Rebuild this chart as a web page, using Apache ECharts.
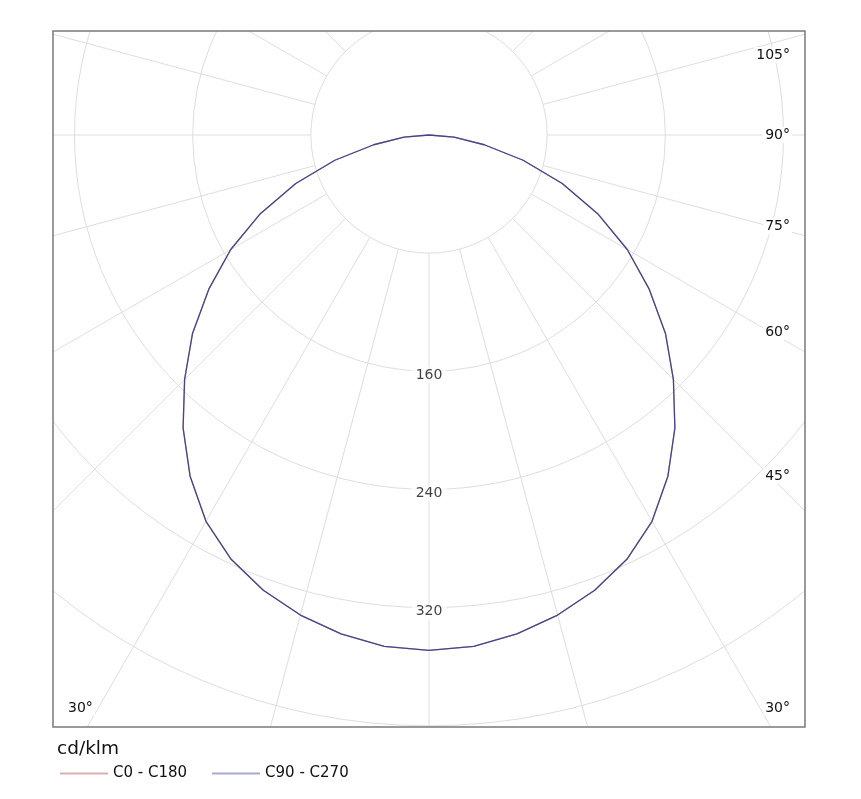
<!DOCTYPE html>
<html>
<head>
<meta charset="utf-8">
<script src="https://cdn.jsdelivr.net/npm/echarts@6/dist/echarts.min.js"></script>
<style>
  html, body { margin: 0; padding: 0; background: #fff; }
  #chart { width: 861px; height: 799px; }
</style>
</head>
<body>
<div id="chart"></div>
<script>
// Photometric data, cd/klm (symmetric planes)
const gammaDeg = [0, 5, 10, 15, 20, 25, 30, 35, 40, 45, 50, 55, 60, 65, 70, 75, 80, 85, 90];
const c0c180 = [349, 347.5, 343, 336.5, 328, 317, 302, 282, 259, 234, 209, 182, 155, 126, 96, 66, 38, 17, 0];
const c90c270 = [349, 347.5, 343, 336.5, 328, 317, 302, 282, 259, 234, 209, 182, 155, 126, 96, 66, 38, 17, 0];

// Grid: rings every 80 cd/klm, radial lines every 15 degrees
const ringMin = 80;
const ringMax = 480;
const ringStep = 80;
const ringLabels = [160, 240, 320];
const angleStep = 15;
const rightAngleLabels = [105, 90, 75, 60, 45, 30];
const leftAngleLabels = [30];

const FONT = '"DejaVu Sans", "Noto Sans", sans-serif';
const TEXT = '#111';
const GRID = '#dedede';

// layout (pixels)
const plot = { left: 53, top: 31, right: 805, bottom: 727 };
const center = [429, 135];
const pxPerUnit = 1.477;
const outerR = ringMax * pxPerUnit;
const innerR = ringMin * pxPerUnit;

// closed curve of one plane: left half (360-g) then right half (g)
function planeCurve(vals) {
    const left = gammaDeg.slice(1).map((g, i) => [vals[i + 1], 360 - g]).reverse();
    const right = gammaDeg.map((g, i) => [vals[i], g]);
    return left.concat(right);
}

const chart = echarts.init(document.getElementById('chart'), null, { renderer: 'canvas' });

// white masks clip the polar grid to the square frame
const masks = [
    { type: 'rect', id: 'mT', z: 10, silent: true, shape: { x: 0, y: 0, width: 861, height: plot.top }, style: { fill: '#fff' } },
    { type: 'rect', id: 'mB', z: 10, silent: true, shape: { x: 0, y: plot.bottom, width: 861, height: 799 - plot.bottom }, style: { fill: '#fff' } },
    { type: 'rect', id: 'mL', z: 10, silent: true, shape: { x: 0, y: 0, width: plot.left, height: 799 }, style: { fill: '#fff' } },
    { type: 'rect', id: 'mR', z: 10, silent: true, shape: { x: plot.right, y: 0, width: 861 - plot.right, height: 799 }, style: { fill: '#fff' } },
    {
        type: 'rect', id: 'frame', z: 11, silent: true,
        shape: { x: plot.left, y: plot.top, width: plot.right - plot.left, height: plot.bottom - plot.top },
        style: { fill: 'none', stroke: '#7a7a7a', lineWidth: 1.5 }
    }
];

chart.setOption({
    animation: false,
    backgroundColor: '#fff',
    title: {
        text: 'cd/klm',
        left: 57,
        top: 740,
        padding: 0,
        z: 20,
        textStyle: { fontFamily: FONT, fontSize: 18.5, fontWeight: 'normal', color: TEXT }
    },
    legend: {
        data: [
            { name: 'C0 - C180', icon: 'rect', itemStyle: { color: '#dcb0b0' } },
            { name: 'C90 - C270', icon: 'rect', itemStyle: { color: '#a9a9d2' } }
        ],
        left: 55,
        top: 761,
        z: 20,
        itemWidth: 48,
        itemHeight: 2,
        itemGap: 25,
        textStyle: { fontFamily: FONT, fontSize: 15, color: TEXT }
    },
    polar: [
        { center: center, radius: [innerR, outerR] },
        { center: center, radius: [0, outerR] }
    ],
    angleAxis: [
        {
            polarIndex: 0, type: 'value', min: 0, max: 360, interval: angleStep,
            startAngle: 270, clockwise: false,
            axisLine: { show: false }, axisTick: { show: false }, axisLabel: { show: false },
            splitLine: { show: true, lineStyle: { color: GRID, width: 1 } }
        },
        {
            polarIndex: 1, type: 'value', min: 0, max: 360,
            startAngle: 270, clockwise: false, show: false,
            splitLine: { show: false }
        }
    ],
    radiusAxis: [
        {
            polarIndex: 0, type: 'value', min: ringMin, max: ringMax, interval: ringStep,
            axisLine: { show: false }, axisTick: { show: false }, axisLabel: { show: false },
            splitLine: { show: true, lineStyle: { color: GRID, width: 1 } }
        },
        {
            polarIndex: 1, type: 'value', min: 0, max: ringMax, show: false,
            splitLine: { show: false }
        }
    ],
    series: [
        {
            name: 'C0 - C180', type: 'line', coordinateSystem: 'polar', polarIndex: 1,
            data: planeCurve(c0c180), symbol: 'none', z: 3,
            color: '#d9a3a3', lineStyle: { width: 1.3 }
        },
        {
            name: 'C90 - C270', type: 'line', coordinateSystem: 'polar', polarIndex: 1,
            data: planeCurve(c90c270), symbol: 'none', z: 4,
            color: '#44448f', lineStyle: { width: 1.3 }
        },
        {
            type: 'scatter', coordinateSystem: 'polar', polarIndex: 1, z: 5,
            data: ringLabels.map(v => [v, 0]),
            symbolSize: 1, itemStyle: { color: 'rgba(0,0,0,0)' }, silent: true,
            label: {
                show: true, position: 'inside', offset: [0, 4],
                formatter: p => String(p.value[0]),
                fontFamily: FONT, fontSize: 14, color: TEXT,
                backgroundColor: '#fff', padding: [1, 4]
            }
        }
    ],
    graphic: { elements: masks }
});

// angle labels: on each radial line where it meets a vertical near the frame, kept inside the frame
function angleLabel(gamma, side) {
    const c = chart.convertToPixel({ polarIndex: 1 }, [0, 0]);
    const p = chart.convertToPixel({ polarIndex: 1 }, [100, side > 0 ? gamma : 360 - gamma]);
    const dx = p[0] - c[0], dy = p[1] - c[1];
    const xAt = c[0] + side * 341;
    let y = Math.abs(dx) < 1e-6 ? c[1] : c[1] + (xAt - c[0]) * dy / dx;
    y = Math.min(Math.max(y, plot.top + 24), plot.bottom - 19);
    return {
        type: 'text', id: 'a' + side + '_' + gamma, z: 12, silent: true,
        x: side > 0 ? plot.right - 13 : plot.left + 13, y: y,
        style: {
            text: gamma + '°', font: '14px ' + FONT, fill: TEXT,
            align: side > 0 ? 'right' : 'left', verticalAlign: 'middle',
            backgroundColor: '#fff', padding: [1, 2]
        }
    };
}

const labels = rightAngleLabels.map(g => angleLabel(g, 1))
    .concat(leftAngleLabels.map(g => angleLabel(g, -1)));

chart.setOption({ graphic: { elements: masks.concat(labels) } });
</script>
</body>
</html>
